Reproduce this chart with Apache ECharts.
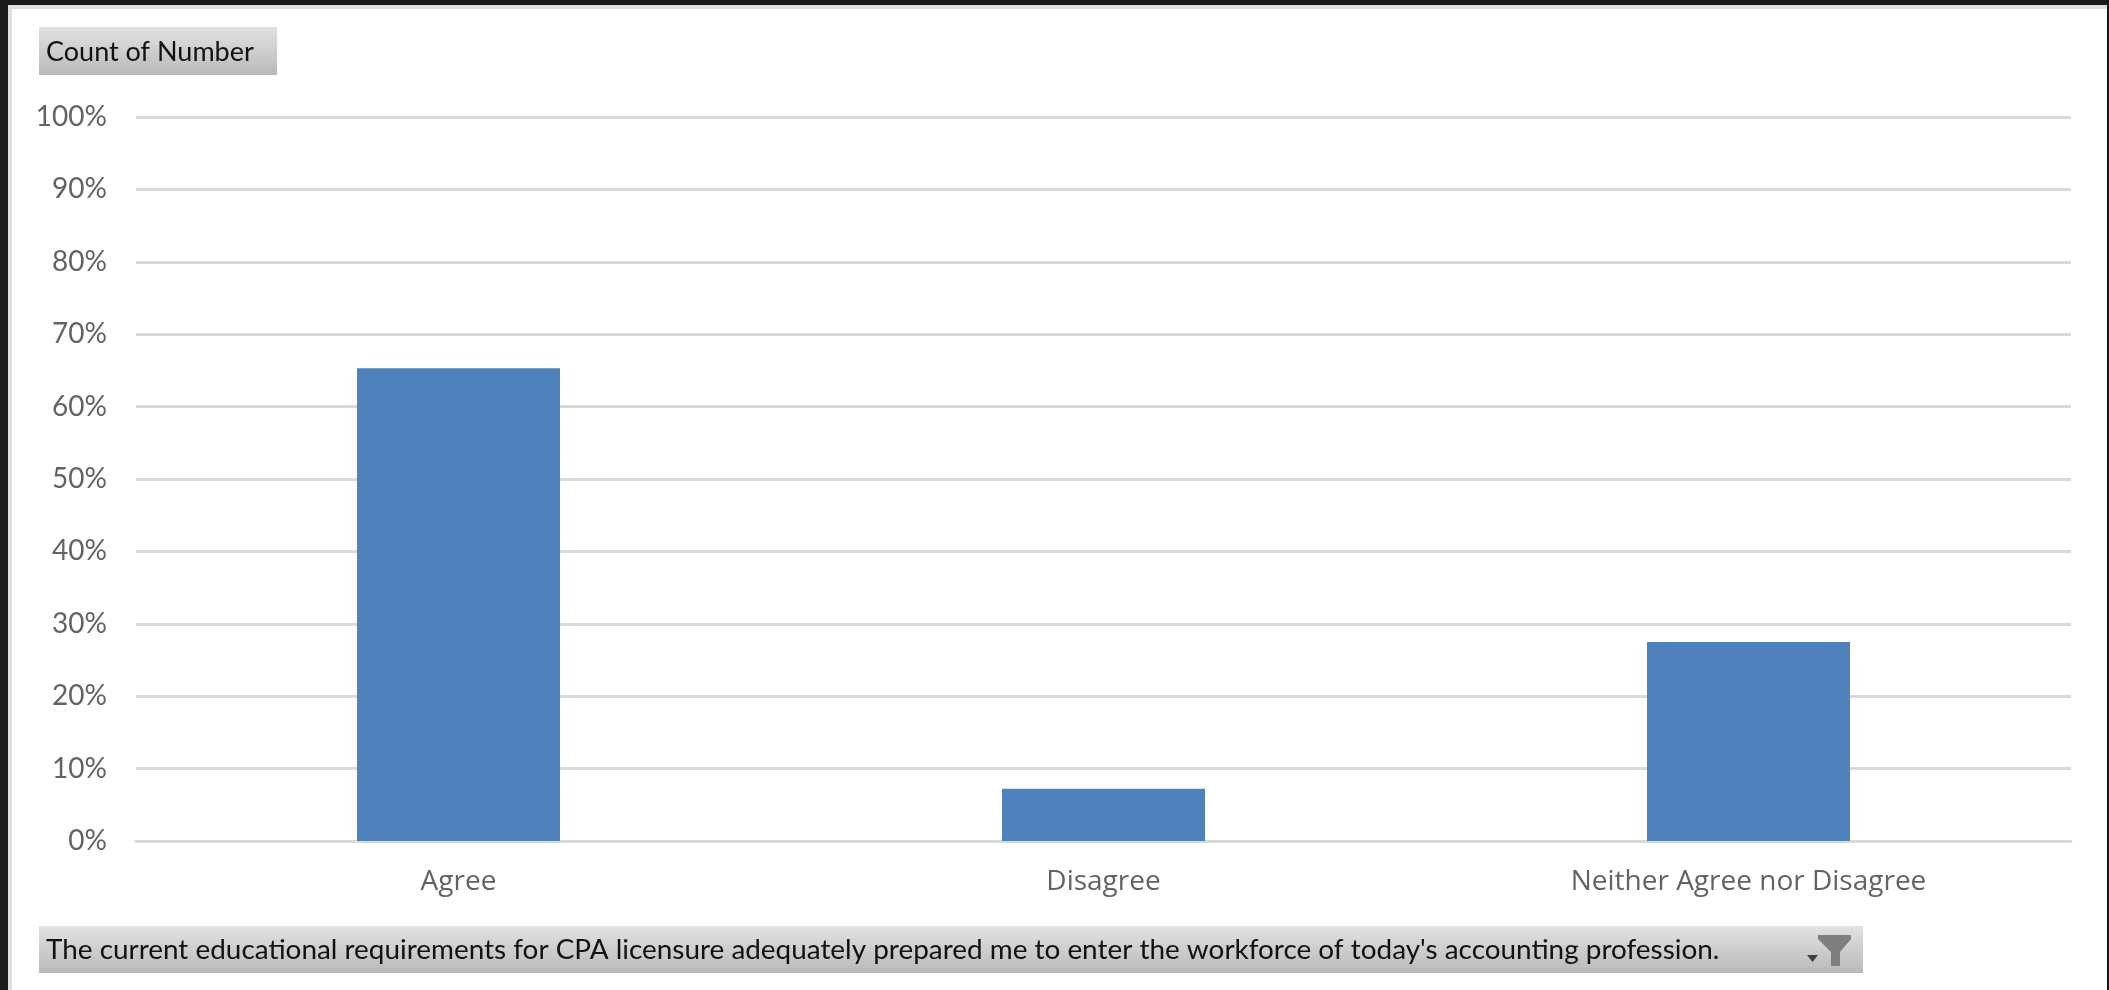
<!DOCTYPE html>
<html>
<head>
<meta charset="utf-8">
<style>html,body{margin:0;padding:0;background:#1a1a1a}#c{width:2109px;height:990px}</style>
<script src="https://cdn.jsdelivr.net/npm/echarts@6/dist/echarts.min.js"></script>
</head>
<body>
<div id="c"></div>
<script>
const categories = ['Agree', 'Disagree', 'Neither Agree nor Disagree'];
const shares = [65.3, 7.2, 27.5];
const fieldLabel = 'Count of Number';
const filterLabel = "The current educational requirements for CPA licensure adequately prepared me to enter the workforce of today's accounting profession.";
const FONT = 'Lato, "Open Sans", sans-serif';
const CAT_FONT = '"Open Sans", Lato, sans-serif';
const btnFill = {type:'linear',x:0,y:0,x2:0,y2:1,colorStops:[{offset:0,color:'#e2e2e2'},{offset:1,color:'#b9b9b9'}]};

const chart = echarts.init(document.getElementById('c'), null, {renderer:'canvas'});
chart.setOption({
  animation:false,
  backgroundColor:'#1a1a1a',
  textStyle:{fontFamily:FONT},
  grid:{left:136,right:38,top:117,bottom:149,containLabel:false},
  xAxis:{type:'category',data:categories,
    axisLine:{show:true,lineStyle:{color:'#d9d9d9',width:3}},
    axisTick:{show:false},
    axisLabel:{color:'#636363',fontSize:28,fontFamily:CAT_FONT,margin:27,interval:0}},
  yAxis:{type:'value',min:0,max:100,interval:10,
    axisLine:{show:false},axisTick:{show:false},
    axisLabel:{color:'#636363',fontSize:28,fontFamily:FONT,margin:29,formatter:'{value}%'},
    splitLine:{show:true,lineStyle:{color:'#d9d9d9',width:3}}},
  series:[{type:'bar',data:shares,barWidth:203,itemStyle:{color:'#4f81bd'},z:5}],
  graphic:[
    {type:'rect',z:-10,silent:true,shape:{x:8,y:5,width:2099,height:985},style:{fill:'#e0e0e0'}},
    {type:'rect',z:-9,silent:true,shape:{x:12,y:9,width:2095,height:981},style:{fill:'#ffffff'}},
    {type:'rect',z:10,silent:true,shape:{x:39,y:27,width:238,height:48},style:{fill:btnFill}},
    {type:'text',z:11,silent:true,style:{x:46,y:52,text:fieldLabel,fill:'#111111',font:'27px '+FONT,textVerticalAlign:'middle'}},
    {type:'rect',z:10,silent:true,shape:{x:39,y:926,width:1824,height:47},style:{fill:btnFill}},
    {type:'text',z:11,silent:true,style:{x:46,y:950,text:filterLabel,fill:'#111111',font:'27.9px '+FONT,textVerticalAlign:'middle'}},
    {type:'polygon',z:11,silent:true,shape:{points:[[1807,955],[1818,955],[1812.5,962]]},style:{fill:'#404040'}},
    {type:'polygon',z:11,silent:true,shape:{points:[[1818,935],[1851,935],[1851,939],[1840,952],[1840,966],[1831,966],[1831,952],[1818,939]]},style:{fill:'#7f7f7f'}}
  ]
});
</script>
</body>
</html>
